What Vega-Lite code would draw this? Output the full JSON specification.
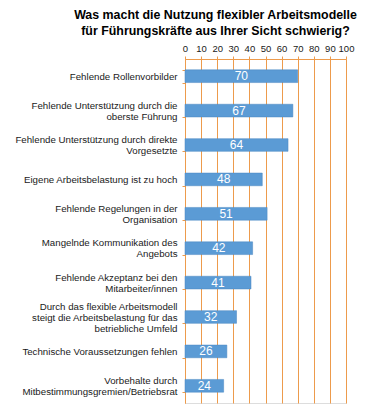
{
  "$schema": "https://vega.github.io/schema/vega-lite/v6.json",
  "autosize": {"type": "none"},
  "width": 161,
  "height": 344,
  "padding": {"left": 185, "top": 59, "right": 35, "bottom": 2},
  "background": "white",
  "title": {
    "text": ["Was macht die Nutzung flexibler Arbeitsmodelle", "für Führungskräfte aus Ihrer Sicht schwierig?"],
    "font": "Liberation Sans",
    "fontSize": 12.4,
    "fontWeight": "bold",
    "color": "#000000",
    "anchor": "middle",
    "frame": "group",
    "dx": -50,
    "lineHeight": 16,
    "offset": 6
  },
  "data": {
    "values": [
      {"label": "Fehlende Rollenvorbilder", "value": 70},
      {"label": "Fehlende Unterstützung durch die|oberste Führung", "value": 67},
      {"label": "Fehlende Unterstützung durch direkte|Vorgesetzte", "value": 64},
      {"label": "Eigene Arbeitsbelastung ist zu hoch", "value": 48},
      {"label": "Fehlende Regelungen in der|Organisation", "value": 51},
      {"label": "Mangelnde Kommunikation des|Angebots", "value": 42},
      {"label": "Fehlende Akzeptanz bei den|Mitarbeiter/innen", "value": 41},
      {"label": "Durch das flexible Arbeitsmodell|steigt die Arbeitsbelastung für das|betriebliche Umfeld", "value": 32},
      {"label": "Technische Voraussetzungen fehlen", "value": 26},
      {"label": "Vorbehalte durch|Mitbestimmungsgremien/Betriebsrat", "value": 24}
    ]
  },
  "encoding": {
    "y": {
      "field": "label",
      "type": "nominal",
      "sort": null,
      "scale": {"paddingInner": 0.63, "paddingOuter": 0.315},
      "axis": {
        "title": null,
        "labelExpr": "split(datum.label, '|')",
        "labelFont": "Liberation Sans",
        "labelFontSize": 9.7,
        "labelColor": "#1a1a1a",
        "labelLineHeight": 11,
        "labelPadding": 5,
        "labelLimit": 250,
        "labelOffset": {
          "condition": [
            {"test": "length(split(datum.value, '|')) == 3", "value": -11},
            {"test": "length(split(datum.value, '|')) == 2", "value": -5.5}
          ],
          "value": 0
        },
        "tickBand": "extent",
        "tickColor": "#ED9B4C",
        "tickSize": 3,
        "domainColor": "#ED9B4C",
        "grid": false
      }
    }
  },
  "layer": [
    {
      "mark": {"type": "bar", "color": "#5B9BD5", "stroke": "#4A86C0", "strokeWidth": 0.5},
      "encoding": {
        "x": {
          "field": "value",
          "type": "quantitative",
          "scale": {"domain": [0, 100], "nice": false},
          "axis": {
            "orient": "top",
            "title": null,
            "values": [0, 10, 20, 30, 40, 50, 60, 70, 80, 90, 100],
            "labelFont": "Liberation Sans",
            "labelFontSize": 9.5,
            "labelColor": "#1a1a1a",
            "labelPadding": 3,
            "labelFlush": false,
            "tickColor": "#ED9B4C",
            "tickSize": 3,
            "domainColor": "#ED9B4C",
            "grid": true,
            "gridColor": "#ED9B4C",
            "gridOpacity": 1,
            "gridWidth": 1
          }
        }
      }
    },
    {
      "mark": {
        "type": "text",
        "color": "white",
        "font": "Liberation Sans",
        "fontSize": 12,
        "align": "center",
        "baseline": "middle",
        "x": {"expr": "scale('x', datum.value / 2)"}
      },
      "encoding": {
        "text": {"field": "value", "type": "quantitative"}
      }
    }
  ]
}
